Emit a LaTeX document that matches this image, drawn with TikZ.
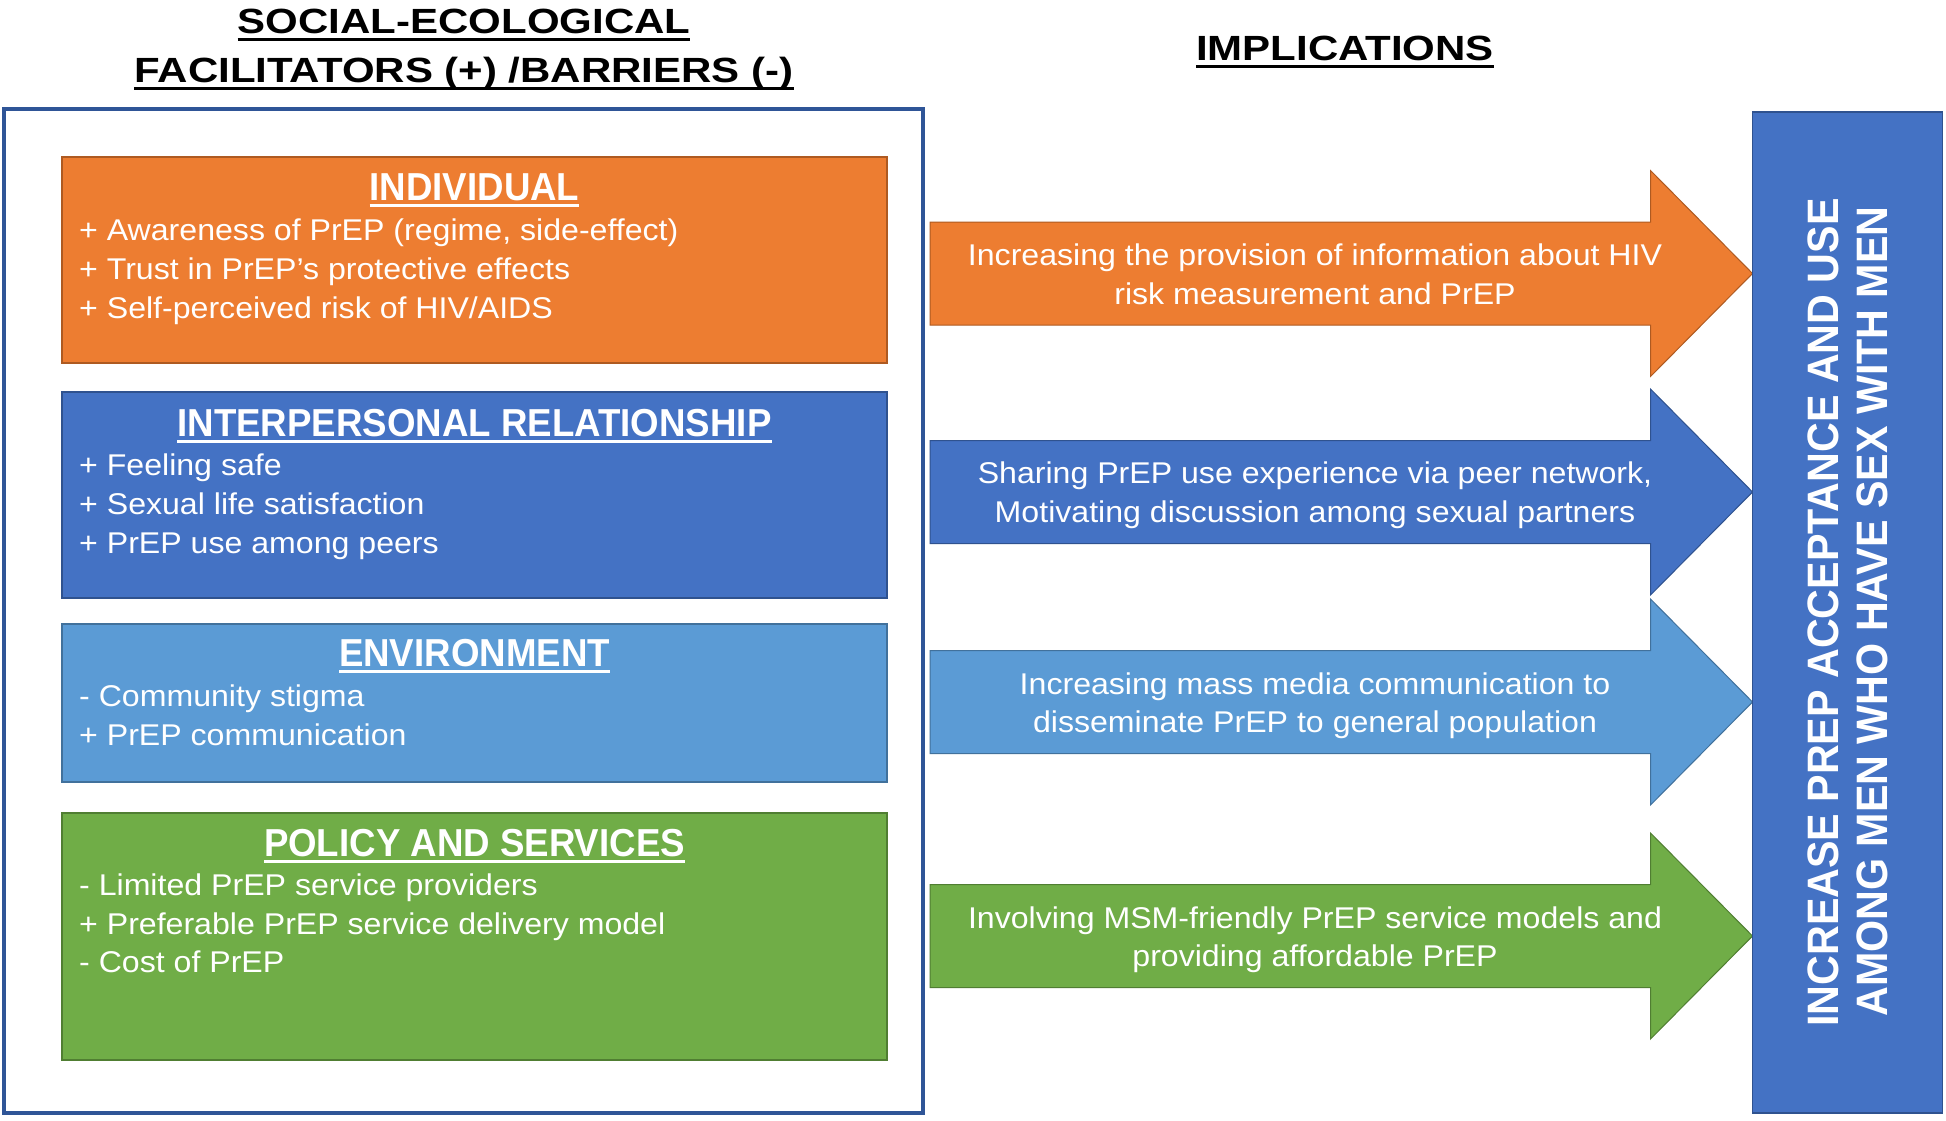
\documentclass[tikz,border=0pt]{standalone}
\usepackage{fontspec}
\setmainfont{Liberation Sans}
\newfontfamily\bodyf{Liberation Sans}[FakeStretch=1.07]
\newfontfamily\headf{Liberation Sans}[FakeStretch=1.2]
\newfontfamily\boxtf{Liberation Sans}[FakeStretch=0.94]
\newfontfamily\vertf{Liberation Sans}[FakeStretch=0.937]
\definecolor{cOr}{HTML}{ED7D31}
\definecolor{cOrD}{HTML}{AE5A21}
\definecolor{cBl}{HTML}{4472C4}
\definecolor{cBlD}{HTML}{2F528F}
\definecolor{cLb}{HTML}{5B9BD5}
\definecolor{cLbD}{HTML}{41719C}
\definecolor{cGr}{HTML}{70AD47}
\definecolor{cGrD}{HTML}{507E32}
\definecolor{cFrame}{HTML}{2F5597}
\newcommand\ulA[1]{\setbox0=\hbox{#1}\rlap{\rule[-8pt]{\wd0}{3pt}}\box0}
\newcommand\ulB[1]{\setbox0=\hbox{#1}\rlap{\rule[-6.5pt]{\wd0}{3pt}}\box0}
\tikzset{
  panel/.style={rectangle, inner sep=0pt, outer sep=0pt, line width=1.5pt},
  bodytxt/.style={text=white, font=\bodyf\fontsize{30}{39}\selectfont, inner sep=0pt},
  hd/.style={text=black, font=\headf\bfseries\fontsize{35}{41}\selectfont, inner sep=0pt, anchor=base},
  boxt/.style={text=white, font=\boxtf\bfseries\fontsize{39}{47}\selectfont, inner sep=0pt, anchor=base},
  vt/.style={text=white, font=\vertf\bfseries\fontsize{44}{50}\selectfont, inner sep=0pt, anchor=base, rotate=90},
  blockarr/.style={line width=1pt, line join=miter}
}
\newcommand\blockarrow[3]{%
  \draw[blockarr, fill=#2, draw=#3]
    (930,#1-51.5) -- (1650.5,#1-51.5) -- (1650.5,#1-103) -- (1752.5,#1)
    -- (1650.5,#1+103) -- (1650.5,#1+51.5) -- (930,#1+51.5) -- cycle;}
\begin{document}
\begin{tikzpicture}[x=1pt,y=-1pt]
\fill[white] (0,0) rectangle (1946,1120);
\useasboundingbox (0,0) rectangle (1946,1120);

% headings
\node[hd] (h1) at (464,33) {\ulA{SOCIAL-ECOLOGICAL}};
\node[hd] (h2) at (464,82) {\ulA{FACILITATORS (+) /BARRIERS (-)}};
\node[hd] (h3) at (1345,60) {\ulA{IMPLICATIONS}};

% left frame
\node[draw=cFrame, line width=4pt, minimum width=919pt, minimum height=1004.5pt, inner sep=0pt] (frame) at (463.5,610.75) {};

% panels
\node[panel, fill=cOr, draw=cOrD, minimum width=825pt, minimum height=206pt] (pInd) at (474.5,260) {};
\node[panel, fill=cBl, draw=cBlD, minimum width=825pt, minimum height=206pt] (pInt) at (474.5,495) {};
\node[panel, fill=cLb, draw=cLbD, minimum width=825pt, minimum height=158pt] (pEnv) at (474.5,703) {};
\node[panel, fill=cGr, draw=cGrD, minimum width=825pt, minimum height=247pt] (pPol) at (474.5,936.5) {};

\node[boxt] (tInd) at (474.5,200) {\ulB{INDIVIDUAL}};
\node[bodytxt, anchor=base west] (i1) at (79,240) {+ Awareness of PrEP (regime, side-effect)};
\node[bodytxt, anchor=base west] (i2) at (79,279) {+ Trust in PrEP’s protective effects};
\node[bodytxt, anchor=base west] (i3) at (79,318) {+ Self-perceived risk of HIV/AIDS};

\node[boxt] (tInt) at (474.5,436) {\ulB{INTERPERSONAL RELATIONSHIP}};
\node[bodytxt, anchor=base west] (r1) at (79,475) {+ Feeling safe};
\node[bodytxt, anchor=base west] (r2) at (79,514) {+ Sexual life satisfaction};
\node[bodytxt, anchor=base west] (r3) at (79,553) {+ PrEP use among peers};

\node[boxt] (tEnv) at (474.5,666) {\ulB{ENVIRONMENT}};
\node[bodytxt, anchor=base west] (e1) at (79,706) {- Community stigma};
\node[bodytxt, anchor=base west] (e2) at (79,745) {+ PrEP communication};

\node[boxt] (tPol) at (474.5,856) {\ulB{POLICY AND SERVICES}};
\node[bodytxt, anchor=base west] (s1) at (79,895) {- Limited PrEP service providers};
\node[bodytxt, anchor=base west] (s2) at (79,934) {+ Preferable PrEP service delivery model};
\node[bodytxt, anchor=base west] (s3) at (79,972) {- Cost of PrEP};

% block arrows
\blockarrow{273.5}{cOr}{cOrD}
\blockarrow{492}{cBl}{cBlD}
\blockarrow{702}{cLb}{cLbD}
\blockarrow{936}{cGr}{cGrD}

\node[bodytxt, anchor=base] (a1a) at (1315,265) {Increasing the provision of information about HIV};
\node[bodytxt, anchor=base] (a1b) at (1315,304) {risk measurement and PrEP};
\node[bodytxt, anchor=base] (a2a) at (1315,483) {Sharing PrEP use experience via peer network,};
\node[bodytxt, anchor=base] (a2b) at (1315,522) {Motivating discussion among sexual partners};
\node[bodytxt, anchor=base] (a3a) at (1315,694) {Increasing mass media communication to};
\node[bodytxt, anchor=base] (a3b) at (1315,732) {disseminate PrEP to general population};
\node[bodytxt, anchor=base] (a4a) at (1315,928) {Involving MSM-friendly PrEP service models and};
\node[bodytxt, anchor=base] (a4b) at (1315,966) {providing affordable PrEP};

% outcome box
\node[panel, fill=cBl, draw=cBlD, minimum width=190pt, minimum height=1001pt] (outc) at (1847.5,612.5) {};
\node[vt] (v1) at (1838,612.5) {INCREASE PREP ACCEPTANCE AND USE};
\node[vt] (v2) at (1887,611.5) {AMONG MEN WHO HAVE SEX WITH MEN};
\end{tikzpicture}
\end{document}
